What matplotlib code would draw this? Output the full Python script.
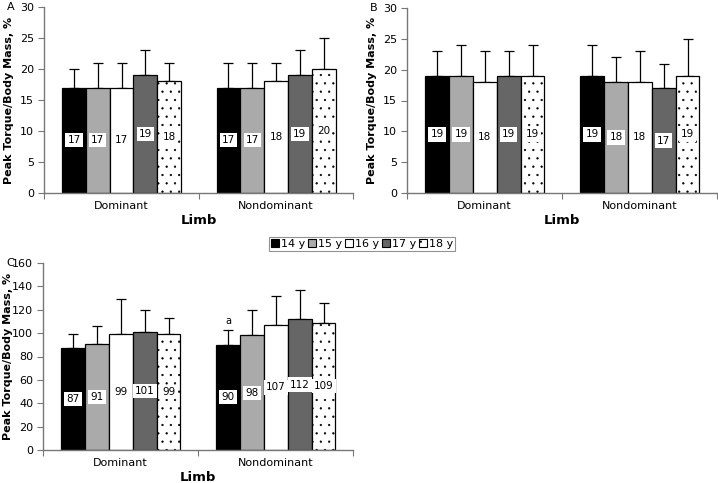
import numpy as np
import matplotlib.pyplot as plt
from matplotlib.patches import Patch

limbs = ['Dominant', 'Nondominant']
ages = ['14 y', '15 y', '16 y', '17 y', '18 y']

# panel A
a_dom = [17, 17, 17, 19, 18]
a_dom_err = [3, 4, 4, 4, 3]
a_non = [17, 17, 18, 19, 20]
a_non_err = [4, 4, 3, 4, 5]

# panel B
b_dom = [19, 19, 18, 19, 19]
b_dom_err = [4, 5, 5, 4, 5]
b_non = [19, 18, 18, 17, 19]
b_non_err = [5, 4, 5, 4, 6]

# panel C
c_dom = [87, 91, 99, 101, 99]
c_dom_err = [12, 15, 30, 19, 14]
c_non = [90, 98, 107, 112, 109]
c_non_err = [13, 22, 25, 25, 17]

face = ['black', '#aaaaaa', 'white', '#666666', 'white']
hatch = [None, None, None, None, '..']

plt.rcParams['hatch.linewidth'] = 0.4
plt.rcParams['hatch.color'] = '#555555'

W, H = 718, 483
fig = plt.figure(figsize=(W / 100, H / 100), dpi=100)

def px_axes(l, t, r, b):
    return fig.add_axes([l / W, 1 - b / H, (r - l) / W, (b - t) / H])

def draw_panel(ax, dom, dom_err, non, non_err, ymax, ystep, letter):
    bw = 0.154
    for g, (vals, errs) in enumerate([(dom, dom_err), (non, non_err)]):
        start = g + 0.117
        for i in range(5):
            x = start + bw * (i + 0.5)
            ax.bar(x, vals[i], width=bw, color=face[i], edgecolor='black',
                   linewidth=0.9, hatch=hatch[i], zorder=2)
            ax.errorbar(x, vals[i], yerr=[[0], [errs[i]]], fmt='none',
                        ecolor='black', elinewidth=0.9, capsize=3.5,
                        capthick=0.9, zorder=1)
            ax.text(x, vals[i] / 2, str(vals[i]), ha='center', va='center',
                    fontsize=7.5, zorder=3,
                    bbox=dict(facecolor='white', edgecolor='none', pad=1.5))
    ax.set_xlim(0, 2)
    ax.set_ylim(0, ymax)
    ax.set_yticks(np.arange(0, ymax + 1, ystep))
    ax.set_xticks([0, 1, 2])
    ax.set_xticklabels([])
    ax.set_xticks([0.5, 1.5], minor=True)
    ax.set_xticklabels(limbs, minor=True, fontsize=8)
    ax.tick_params(axis='x', which='minor', length=0, pad=6)
    ax.tick_params(axis='x', which='major', length=4, color='#777777')
    ax.tick_params(axis='y', length=4, color='#777777', labelsize=8, pad=3)
    for s in ['top', 'right']:
        ax.spines[s].set_visible(False)
    for s in ['left', 'bottom']:
        ax.spines[s].set_color('#777777')
        ax.spines[s].set_linewidth(1.0)
    ax.set_xlabel('Limb', fontsize=9.5, fontweight='bold', labelpad=2)
    ax.set_ylabel('Peak Torque/Body Mass, %', fontsize=8, fontweight='bold')
    ax.yaxis.set_label_coords(-0.097, 0.5)
    ax.text(-0.107, 1.0, letter, transform=ax.transAxes, fontsize=8,
            ha='center', va='center')

ax_a = px_axes(44, 7, 353, 193)
draw_panel(ax_a, a_dom, a_dom_err, a_non, a_non_err, 30, 5, 'A')

ax_b = px_axes(407, 8, 717, 193)
draw_panel(ax_b, b_dom, b_dom_err, b_non, b_non_err, 30, 5, 'B')

ax_c = px_axes(43, 263, 353, 450)
draw_panel(ax_c, c_dom, c_dom_err, c_non, c_non_err, 160, 20, 'C')
ax_c.text(1 + 0.117 + 0.154 * 0.5, c_non[0] + c_non_err[0] + 7, 'a',
          ha='center', va='center', fontsize=7)

handles = [Patch(facecolor=face[i], edgecolor='black', linewidth=0.8,
                 hatch=hatch[i]) for i in range(5)]
leg = fig.legend(handles, ages, loc='center', bbox_to_anchor=(362 / W, 1 - 244 / H),
                 ncol=5, fontsize=8, frameon=True, fancybox=False,
                 handlelength=0.7, handleheight=0.7, handletextpad=0.2,
                 columnspacing=0.25, borderpad=0.2, borderaxespad=0)
leg.get_frame().set_edgecolor('#777777')
leg.get_frame().set_linewidth(0.8)

fig.savefig('out.png', dpi=100)
